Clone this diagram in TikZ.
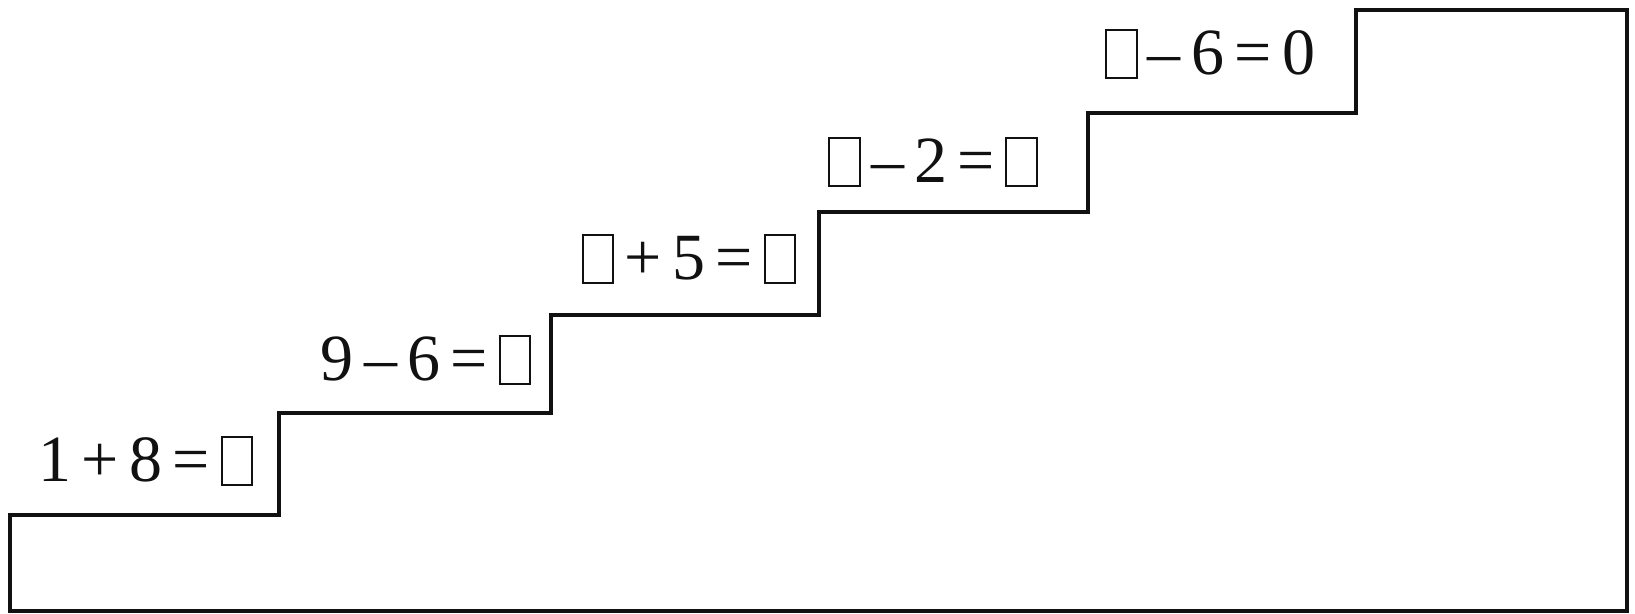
\documentclass[tikz,border=0pt]{standalone}
\usepackage{fontspec}
\setmainfont{Liberation Serif}
\usetikzlibrary{positioning}
\definecolor{ink}{HTML}{111111}

\newcommand{\answerbox}{{\setlength{\fboxsep}{0pt}\setlength{\fboxrule}{0.5pt}%
  \raisebox{-0.6pt}{\fbox{\rule{0pt}{11.6pt}\rule{7.2pt}{0pt}}}}}
\newcommand{\tightsums}{\setlength{\spaceskip}{2.6pt}}

\begin{document}
\begin{tikzpicture}[
      x=0.25pt, y=-0.25pt,
      stair/.style={draw=ink, line width=0.95pt, line join=miter},
      sum/.style={inner sep=0pt, text=ink,
                  font=\fontsize{16.5pt}{18pt}\selectfont,
                  execute at begin node=\tightsums},
    ]
      \useasboundingbox (0,0) rectangle (1635,613);

      % staircase outline
      \draw[stair] (10,611) -- (10,515) -- (279,515) -- (279,413)
        -- (551,413) -- (551,315) -- (819,315) -- (819,212)
        -- (1088,212) -- (1088,113) -- (1356,113) -- (1356,10)
        -- (1627,10) -- (1627,611) -- cycle;

      % one sum on each step
      \node[sum] (stepone)   at (146,461) {1 + 8 = \answerbox};
      \node[sum] (steptwo)   at (426,360) {9 – 6 = \answerbox};
      \node[sum] (stepthree) at (689,259) {\answerbox{} + 5 = \answerbox};
      \node[sum] (stepfour)  at (933,162) {\answerbox{} – 2 = \answerbox};
      \node[sum] (stepfive)  at (1210,54) {\answerbox{} – 6 = 0};

    \end{tikzpicture}
\end{document}
